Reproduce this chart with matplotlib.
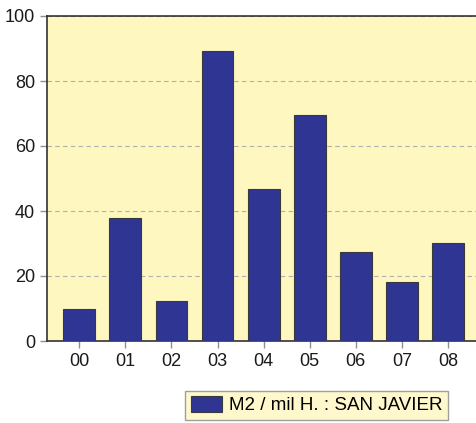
import matplotlib
matplotlib.use("Agg")
import matplotlib.pyplot as plt

years = ["00", "01", "02", "03", "04", "05", "06", "07", "08"]
values = [9.8, 37.8, 12.4, 89.3, 46.7, 69.4, 27.3, 18.2, 30.2]
series_name = "M2 / mil H. : SAN JAVIER"
y_ticks = [0, 20, 40, 60, 80, 100]

plt.rcParams['font.family'] = ['Liberation Sans', 'DejaVu Sans']

fig = plt.figure(figsize=(4.77, 4.23), dpi=100)
ax = fig.add_axes([47 / 477, 82 / 423, 430 / 477, 325 / 423])
ax.set_facecolor('#fff7c0')

x = list(range(len(years)))
ax.bar(x, values, width=0.69, color='#2e3592', edgecolor='#3a3a3a',
       linewidth=0.8, label=series_name, zorder=3)

ax.set_xlim(-0.7, 8.63)
ax.set_ylim(0, 100)
ax.set_yticks(y_ticks)
ax.set_xticks(x)
ax.set_xticklabels(years)
ax.yaxis.grid(True, linestyle=(0, (4, 3)), color='#b0b0b0', linewidth=0.8, zorder=1)
ax.tick_params(axis='both', labelsize=13, color='#909090', length=5, width=1,
               labelcolor='#1a1a1a')

for side in ['left', 'bottom', 'top']:
    ax.spines[side].set_color('#333333')
    ax.spines[side].set_linewidth(1.2)
ax.spines['right'].set_visible(False)

leg = fig.legend(loc='lower left', bbox_to_anchor=(185 / 477, 3 / 423),
                 prop={'size': 13.5}, frameon=True, fancybox=False,
                 handlelength=1.7, handleheight=0.9, handletextpad=0.35,
                 borderpad=0.3, borderaxespad=0)
leg.get_frame().set_facecolor('#fff7c0')
leg.get_frame().set_edgecolor('#888888')
leg.get_frame().set_linewidth(1.0)

fig.savefig('out.png', dpi=100)
